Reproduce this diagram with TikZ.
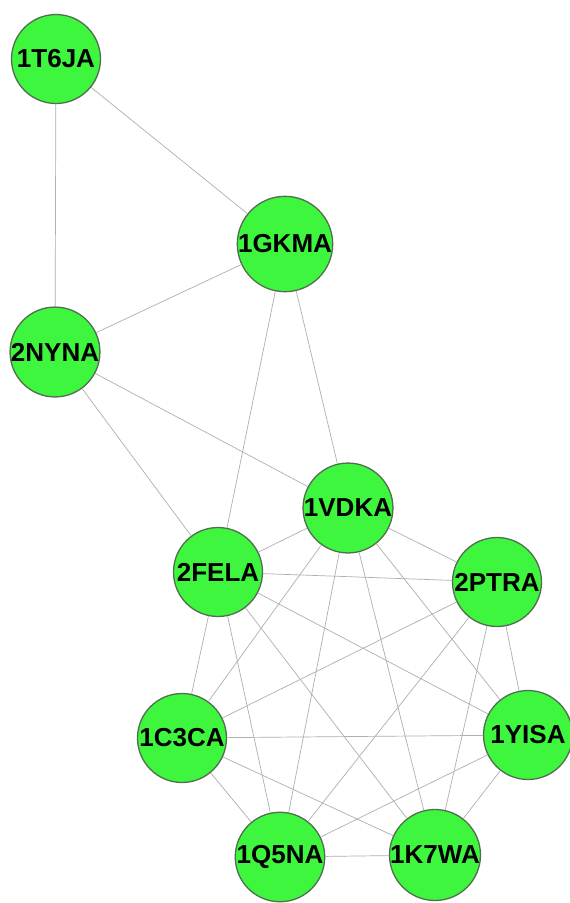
\documentclass[tikz,border=0pt]{standalone}
\usepackage{fontspec}
\setmainfont{Liberation Sans}
\definecolor{nodefill}{RGB}{62,246,62}
\definecolor{nodeedge}{RGB}{80,110,80}
\definecolor{linkgray}{RGB}{175,175,175}
\begin{document}
\begin{tikzpicture}[x=1pt,y=-1pt,
  protein/.style={circle,draw=nodeedge,line width=1.3pt,fill=nodefill,
    minimum size=89pt,inner sep=0pt,
    font=\fontsize{26}{26}\selectfont\bfseries,text=black},
  link/.style={draw=linkgray,line width=0.7pt}]
\useasboundingbox (0,0) rectangle (570,903);
\fill[white] (0,0) rectangle (570,903);

% protein nodes
\node[protein] (t6j) at (56,59)  {1T6JA};
\node[protein] (gkm) at (285,244) {1GKMA};
\node[protein] (nyn) at (55,352) {2NYNA};
\node[protein] (vdk) at (348,508) {1VDKA};
\node[protein] (fel) at (218,572) {2FELA};
\node[protein] (ptr) at (497,582) {2PTRA};
\node[protein] (c3c) at (182,738) {1C3CA};
\node[protein] (yis) at (528,735) {1YISA};
\node[protein] (q5n) at (280,857) {1Q5NA};
\node[protein] (k7w) at (435,855) {1K7WA};

% interactions of the upper group
\path[link] (t6j) -- (gkm) (t6j) -- (nyn) (gkm) -- (nyn)
  (gkm) -- (fel) (gkm) -- (vdk) (nyn) -- (vdk) (nyn) -- (fel);
% the seven-member clique
\foreach \a/\b in {vdk/fel,vdk/ptr,vdk/c3c,vdk/yis,vdk/q5n,vdk/k7w,
                   fel/ptr,fel/c3c,fel/yis,fel/q5n,fel/k7w,
                   ptr/c3c,ptr/yis,ptr/q5n,ptr/k7w,
                   c3c/yis,c3c/q5n,c3c/k7w,
                   yis/q5n,yis/k7w,
                   q5n/k7w}
  \path[link] (\a) -- (\b);
\end{tikzpicture}
\end{document}
